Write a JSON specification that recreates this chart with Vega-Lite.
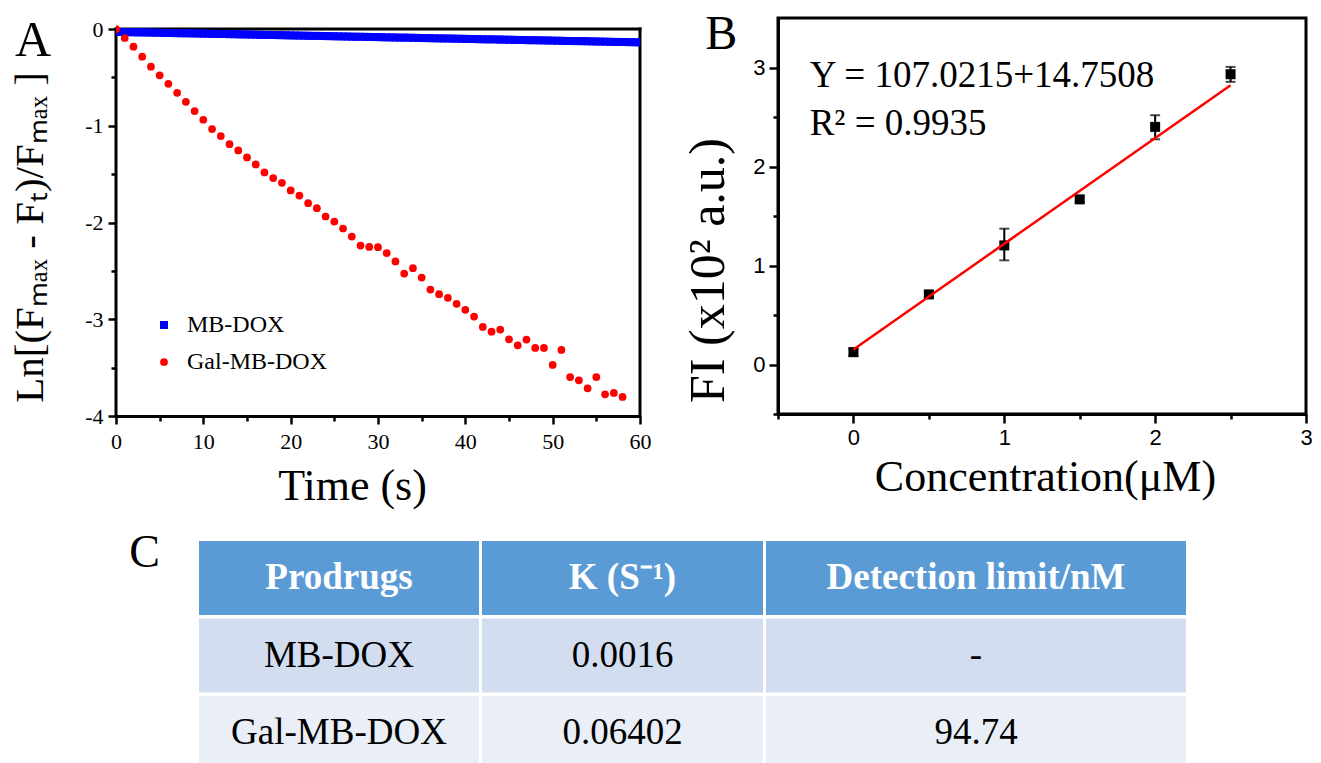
{
  "$schema": "https://vega.github.io/schema/vega-lite/v6.json",
  "padding": {"left": 8, "top": 9, "right": 0, "bottom": 0},
  "background": "white",
  "config": {
    "view": {"stroke": null},
    "axis": {"grid": false, "domainColor": "black", "domainWidth": 3, "tickColor": "black", "tickWidth": 2.5, "labelColor": "black", "titleColor": "black", "titleFontWeight": "normal", "labelFont": "Liberation Serif", "titleFont": "Liberation Serif", "labelFlush": false, "labelOverlap": false, "labelBound": false},
    "text": {"font": "Liberation Serif"},
    "title": {"font": "Liberation Serif", "fontWeight": "normal", "color": "black"}
  },
  "resolve": {"scale": {"color": "independent", "shape": "independent", "size": "independent"}, "legend": {"color": "independent", "shape": "independent", "size": "independent"}},
  "datasets": {
    "a": [
      {"s":"MB-DOX","t":0,"v":-0.030},{"s":"MB-DOX","t":0.5,"v":-0.031},{"s":"MB-DOX","t":1,"v":-0.032},{"s":"MB-DOX","t":1.5,"v":-0.033},{"s":"MB-DOX","t":2,"v":-0.034},{"s":"MB-DOX","t":2.5,"v":-0.035},{"s":"MB-DOX","t":3,"v":-0.035},{"s":"MB-DOX","t":3.5,"v":-0.036},{"s":"MB-DOX","t":4,"v":-0.037},{"s":"MB-DOX","t":4.5,"v":-0.038},
      {"s":"MB-DOX","t":5,"v":-0.039},{"s":"MB-DOX","t":5.5,"v":-0.040},{"s":"MB-DOX","t":6,"v":-0.041},{"s":"MB-DOX","t":6.5,"v":-0.042},{"s":"MB-DOX","t":7,"v":-0.043},{"s":"MB-DOX","t":7.5,"v":-0.044},{"s":"MB-DOX","t":8,"v":-0.044},{"s":"MB-DOX","t":8.5,"v":-0.045},{"s":"MB-DOX","t":9,"v":-0.046},{"s":"MB-DOX","t":9.5,"v":-0.047},
      {"s":"MB-DOX","t":10,"v":-0.048},{"s":"MB-DOX","t":10.5,"v":-0.049},{"s":"MB-DOX","t":11,"v":-0.050},{"s":"MB-DOX","t":11.5,"v":-0.051},{"s":"MB-DOX","t":12,"v":-0.052},{"s":"MB-DOX","t":12.5,"v":-0.052},{"s":"MB-DOX","t":13,"v":-0.053},{"s":"MB-DOX","t":13.5,"v":-0.054},{"s":"MB-DOX","t":14,"v":-0.055},{"s":"MB-DOX","t":14.5,"v":-0.056},
      {"s":"MB-DOX","t":15,"v":-0.057},{"s":"MB-DOX","t":15.5,"v":-0.058},{"s":"MB-DOX","t":16,"v":-0.059},{"s":"MB-DOX","t":16.5,"v":-0.060},{"s":"MB-DOX","t":17,"v":-0.061},{"s":"MB-DOX","t":17.5,"v":-0.062},{"s":"MB-DOX","t":18,"v":-0.062},{"s":"MB-DOX","t":18.5,"v":-0.063},{"s":"MB-DOX","t":19,"v":-0.064},{"s":"MB-DOX","t":19.5,"v":-0.065},
      {"s":"MB-DOX","t":20,"v":-0.066},{"s":"MB-DOX","t":20.5,"v":-0.067},{"s":"MB-DOX","t":21,"v":-0.068},{"s":"MB-DOX","t":21.5,"v":-0.069},{"s":"MB-DOX","t":22,"v":-0.070},{"s":"MB-DOX","t":22.5,"v":-0.071},{"s":"MB-DOX","t":23,"v":-0.071},{"s":"MB-DOX","t":23.5,"v":-0.072},{"s":"MB-DOX","t":24,"v":-0.073},{"s":"MB-DOX","t":24.5,"v":-0.074},
      {"s":"MB-DOX","t":25,"v":-0.075},{"s":"MB-DOX","t":25.5,"v":-0.076},{"s":"MB-DOX","t":26,"v":-0.077},{"s":"MB-DOX","t":26.5,"v":-0.078},{"s":"MB-DOX","t":27,"v":-0.079},{"s":"MB-DOX","t":27.5,"v":-0.080},{"s":"MB-DOX","t":28,"v":-0.080},{"s":"MB-DOX","t":28.5,"v":-0.081},{"s":"MB-DOX","t":29,"v":-0.082},{"s":"MB-DOX","t":29.5,"v":-0.083},
      {"s":"MB-DOX","t":30,"v":-0.084},{"s":"MB-DOX","t":30.5,"v":-0.085},{"s":"MB-DOX","t":31,"v":-0.086},{"s":"MB-DOX","t":31.5,"v":-0.087},{"s":"MB-DOX","t":32,"v":-0.088},{"s":"MB-DOX","t":32.5,"v":-0.089},{"s":"MB-DOX","t":33,"v":-0.089},{"s":"MB-DOX","t":33.5,"v":-0.090},{"s":"MB-DOX","t":34,"v":-0.091},{"s":"MB-DOX","t":34.5,"v":-0.092},
      {"s":"MB-DOX","t":35,"v":-0.093},{"s":"MB-DOX","t":35.5,"v":-0.094},{"s":"MB-DOX","t":36,"v":-0.095},{"s":"MB-DOX","t":36.5,"v":-0.096},{"s":"MB-DOX","t":37,"v":-0.097},{"s":"MB-DOX","t":37.5,"v":-0.098},{"s":"MB-DOX","t":38,"v":-0.098},{"s":"MB-DOX","t":38.5,"v":-0.099},{"s":"MB-DOX","t":39,"v":-0.100},{"s":"MB-DOX","t":39.5,"v":-0.101},
      {"s":"MB-DOX","t":40,"v":-0.102},{"s":"MB-DOX","t":40.5,"v":-0.103},{"s":"MB-DOX","t":41,"v":-0.104},{"s":"MB-DOX","t":41.5,"v":-0.105},{"s":"MB-DOX","t":42,"v":-0.106},{"s":"MB-DOX","t":42.5,"v":-0.107},{"s":"MB-DOX","t":43,"v":-0.107},{"s":"MB-DOX","t":43.5,"v":-0.108},{"s":"MB-DOX","t":44,"v":-0.109},{"s":"MB-DOX","t":44.5,"v":-0.110},
      {"s":"MB-DOX","t":45,"v":-0.111},{"s":"MB-DOX","t":45.5,"v":-0.112},{"s":"MB-DOX","t":46,"v":-0.113},{"s":"MB-DOX","t":46.5,"v":-0.114},{"s":"MB-DOX","t":47,"v":-0.115},{"s":"MB-DOX","t":47.5,"v":-0.116},{"s":"MB-DOX","t":48,"v":-0.116},{"s":"MB-DOX","t":48.5,"v":-0.117},{"s":"MB-DOX","t":49,"v":-0.118},{"s":"MB-DOX","t":49.5,"v":-0.119},
      {"s":"MB-DOX","t":50,"v":-0.120},{"s":"MB-DOX","t":50.5,"v":-0.121},{"s":"MB-DOX","t":51,"v":-0.122},{"s":"MB-DOX","t":51.5,"v":-0.123},{"s":"MB-DOX","t":52,"v":-0.124},{"s":"MB-DOX","t":52.5,"v":-0.125},{"s":"MB-DOX","t":53,"v":-0.125},{"s":"MB-DOX","t":53.5,"v":-0.126},{"s":"MB-DOX","t":54,"v":-0.127},{"s":"MB-DOX","t":54.5,"v":-0.128},
      {"s":"MB-DOX","t":55,"v":-0.129},{"s":"MB-DOX","t":55.5,"v":-0.130},{"s":"MB-DOX","t":56,"v":-0.131},{"s":"MB-DOX","t":56.5,"v":-0.132},{"s":"MB-DOX","t":57,"v":-0.133},{"s":"MB-DOX","t":57.5,"v":-0.134},{"s":"MB-DOX","t":58,"v":-0.134},{"s":"MB-DOX","t":58.5,"v":-0.135},{"s":"MB-DOX","t":59,"v":-0.136},{"s":"MB-DOX","t":59.5,"v":-0.137},
      {"s":"MB-DOX","t":60,"v":-0.138},
      {"s":"Gal-MB-DOX","t":0,"v":0},{"s":"Gal-MB-DOX","t":1,"v":-0.093},{"s":"Gal-MB-DOX","t":2,"v":-0.183},{"s":"Gal-MB-DOX","t":3,"v":-0.286},{"s":"Gal-MB-DOX","t":4,"v":-0.39},{"s":"Gal-MB-DOX","t":5,"v":-0.479},{"s":"Gal-MB-DOX","t":6,"v":-0.566},{"s":"Gal-MB-DOX","t":7,"v":-0.659},{"s":"Gal-MB-DOX","t":8,"v":-0.752},{"s":"Gal-MB-DOX","t":9,"v":-0.848},
      {"s":"Gal-MB-DOX","t":10,"v":-0.938},{"s":"Gal-MB-DOX","t":11,"v":-1.034},{"s":"Gal-MB-DOX","t":12,"v":-1.107},{"s":"Gal-MB-DOX","t":13,"v":-1.19},{"s":"Gal-MB-DOX","t":14,"v":-1.255},{"s":"Gal-MB-DOX","t":15,"v":-1.328},{"s":"Gal-MB-DOX","t":16,"v":-1.40},{"s":"Gal-MB-DOX","t":17,"v":-1.483},{"s":"Gal-MB-DOX","t":18,"v":-1.541},{"s":"Gal-MB-DOX","t":19,"v":-1.59},
      {"s":"Gal-MB-DOX","t":20,"v":-1.669},{"s":"Gal-MB-DOX","t":21,"v":-1.721},{"s":"Gal-MB-DOX","t":22,"v":-1.80},{"s":"Gal-MB-DOX","t":23,"v":-1.852},{"s":"Gal-MB-DOX","t":24,"v":-1.938},{"s":"Gal-MB-DOX","t":25,"v":-1.99},{"s":"Gal-MB-DOX","t":26,"v":-2.062},{"s":"Gal-MB-DOX","t":27,"v":-2.145},{"s":"Gal-MB-DOX","t":28,"v":-2.238},{"s":"Gal-MB-DOX","t":29,"v":-2.252},
      {"s":"Gal-MB-DOX","t":30,"v":-2.255},{"s":"Gal-MB-DOX","t":31,"v":-2.317},{"s":"Gal-MB-DOX","t":32,"v":-2.403},{"s":"Gal-MB-DOX","t":33,"v":-2.528},{"s":"Gal-MB-DOX","t":34,"v":-2.472},{"s":"Gal-MB-DOX","t":35,"v":-2.569},{"s":"Gal-MB-DOX","t":36,"v":-2.693},{"s":"Gal-MB-DOX","t":37,"v":-2.741},{"s":"Gal-MB-DOX","t":38,"v":-2.779},{"s":"Gal-MB-DOX","t":39,"v":-2.841},
      {"s":"Gal-MB-DOX","t":40,"v":-2.903},{"s":"Gal-MB-DOX","t":41,"v":-2.972},{"s":"Gal-MB-DOX","t":42,"v":-3.079},{"s":"Gal-MB-DOX","t":43,"v":-3.128},{"s":"Gal-MB-DOX","t":44,"v":-3.107},{"s":"Gal-MB-DOX","t":45,"v":-3.207},{"s":"Gal-MB-DOX","t":46,"v":-3.269},{"s":"Gal-MB-DOX","t":47,"v":-3.21},{"s":"Gal-MB-DOX","t":48,"v":-3.297},{"s":"Gal-MB-DOX","t":49,"v":-3.297},
      {"s":"Gal-MB-DOX","t":50,"v":-3.472},{"s":"Gal-MB-DOX","t":51,"v":-3.317},{"s":"Gal-MB-DOX","t":52,"v":-3.597},{"s":"Gal-MB-DOX","t":53,"v":-3.631},{"s":"Gal-MB-DOX","t":54,"v":-3.714},{"s":"Gal-MB-DOX","t":55,"v":-3.597},{"s":"Gal-MB-DOX","t":56,"v":-3.776},{"s":"Gal-MB-DOX","t":57,"v":-3.762},{"s":"Gal-MB-DOX","t":58,"v":-3.803}
    ],
    "b": [
      {"c":0,"fi":0.125,"lo":0.085,"hi":0.16},
      {"c":0.5,"fi":0.708,"lo":0.678,"hi":0.738},
      {"c":1,"fi":1.203,"lo":1.052,"hi":1.372},
      {"c":1.5,"fi":1.668,"lo":1.638,"hi":1.698},
      {"c":2,"fi":2.40,"lo":2.275,"hi":2.518},
      {"c":2.5,"fi":2.932,"lo":2.855,"hi":3.006}
    ],
    "fit": [{"c":0,"fi":0.152},{"c":2.5,"fi":2.821}],
    "table": [
      {"row":"0","p":"Prodrugs","k":"K (S⁻¹)","d":"Detection limit/nM"},
      {"row":"1","p":"MB-DOX","k":"0.0016","d":"-"},
      {"row":"2","p":"Gal-MB-DOX","k":"0.06402","d":"94.74"}
    ]
  },
  "bounds": "flush",
  "spacing": 523,
  "vconcat": [
    {
      "bounds": "flush",
      "spacing": 138,
      "hconcat": [
        {
          "width": 524,
          "height": 398,
          "resolve": {"axis": {"x": "independent", "y": "independent"}},
          "layer": [
            {
              "data": {"values": [{}]},
              "mark": {"type": "rule", "strokeWidth": 3, "color": "black", "strokeCap": "square"},
              "encoding": {
                "x": {"datum": 60, "type": "quantitative", "axis": {"orient": "bottom", "values": [5, 15, 25, 35, 45, 55], "labels": false, "domain": false, "tickSize": 5, "title": null}},
                "y": {"datum": -4, "type": "quantitative", "axis": {"orient": "left", "values": [-3.5, -2.5, -1.5, -0.5], "labels": false, "domain": false, "tickSize": 5, "title": null}},
                "y2": {"datum": 0}
              }
            },
            {
              "data": {"values": [{}]},
              "mark": {"type": "rule", "strokeWidth": 3, "color": "black", "strokeCap": "square"},
              "encoding": {
                "x": {"datum": 0, "type": "quantitative", "axis": null},
                "y": {"datum": -4, "type": "quantitative", "axis": null},
                "y2": {"datum": 0}
              }
            },
            {
              "data": {"values": [{}]},
              "mark": {"type": "rule", "strokeWidth": 3, "color": "black", "strokeCap": "square"},
              "encoding": {
                "x": {"datum": 0, "type": "quantitative", "axis": null},
                "x2": {"datum": 60},
                "y": {"datum": 0, "type": "quantitative", "axis": null}
              }
            },
            {
              "data": {"name": "a"},
              "mark": {"type": "point", "filled": true, "opacity": 1, "clip": true, "strokeWidth": 0},
              "encoding": {
                "x": {"field": "t", "type": "quantitative", "scale": {"domain": [0, 60], "nice": false, "zero": false},
                  "axis": {"orient": "bottom", "values": [0, 10, 20, 30, 40, 50, 60], "tickSize": 8, "labelPadding": 7, "labelFontSize": 22, "title": "Time (s)", "titleFontSize": 44, "titleX": 236, "titleY": 83, "titleBaseline": "alphabetic", "titleAlign": "center"}},
                "y": {"field": "v", "type": "quantitative", "scale": {"domain": [-4, 0.1137], "nice": false, "zero": false},
                  "axis": {"orient": "left", "values": [-4, -3, -2, -1, 0], "domain": false, "tickSize": 8, "labelPadding": 5, "labelFontSize": 22, "labelExpr": "replace(datum.label, '−', '-')", "title": "Ln[(Fₘₐₓ - Fₜ)/Fₘₐₓ ]", "titleFontSize": 41, "titleX": -74, "titleY": 219, "titleAngle": -90, "titleBaseline": "alphabetic", "titleAlign": "center"}},
                "color": {"field": "s", "type": "nominal", "scale": {"domain": ["MB-DOX", "Gal-MB-DOX"], "range": ["#0000FF", "#FF0000"]},
                  "legend": {"title": null, "orient": "none", "legendX": 36, "legendY": 295, "labelFontSize": 24, "labelFont": "Liberation Serif", "labelColor": "black", "symbolSize": 64, "rowPadding": 13, "labelOffset": 11, "padding": 0, "symbolStrokeWidth": 0}},
                "shape": {"field": "s", "type": "nominal", "scale": {"domain": ["MB-DOX", "Gal-MB-DOX"], "range": ["square", "circle"]},
                  "legend": {"title": null, "orient": "none", "legendX": 36, "legendY": 295, "labelFontSize": 24, "labelFont": "Liberation Serif", "labelColor": "black", "symbolSize": 64, "rowPadding": 13, "labelOffset": 11, "padding": 0, "symbolStrokeWidth": 0}},
                "size": {"field": "s", "type": "nominal", "scale": {"domain": ["MB-DOX", "Gal-MB-DOX"], "range": [64, 60]}, "legend": null}
              }
            },
            {
              "data": {"values": [{"label": "A"}]},
              "mark": {"type": "text", "fontSize": 50, "align": "left", "baseline": "alphabetic", "font": "Liberation Serif", "color": "black"},
              "encoding": {
                "x": {"datum": -11.57, "type": "quantitative", "axis": null},
                "y": {"datum": -0.279, "type": "quantitative", "axis": null},
                "text": {"field": "label"}
              }
            }
          ]
        },
        {
          "width": 528,
          "height": 396,
          "view": {"stroke": "black", "strokeWidth": 3},
          "resolve": {"axis": {"x": "independent", "y": "independent"}},
          "layer": [
            {
              "data": {"name": "b"},
              "mark": {"type": "rule", "strokeWidth": 2, "color": "black"},
              "encoding": {
                "x": {"field": "c", "type": "quantitative", "scale": {"domain": [-0.5, 3], "nice": false, "zero": false},
                  "axis": {"orient": "bottom", "values": [0, 1, 2, 3], "tickSize": 9, "labelPadding": 4, "labelFont": "Liberation Sans", "labelFontSize": 22, "title": "Concentration(μM)", "titleFontSize": 44, "titleX": 267, "titleY": 76, "titleBaseline": "alphabetic", "titleAlign": "center"}},
                "y": {"field": "lo", "type": "quantitative", "scale": {"domain": [-0.5, 3.5], "nice": false, "zero": false},
                  "axis": {"orient": "left", "values": [0, 1, 2, 3], "tickSize": 9, "labelPadding": 4, "labelFont": "Liberation Sans", "labelFontSize": 22, "title": "FI (x10² a.u.)", "titleFontSize": 50, "titleX": -55, "titleY": 252, "titleAngle": -90, "titleBaseline": "alphabetic", "titleAlign": "center"}},
                "y2": {"field": "hi"}
              }
            },
            {
              "data": {"name": "b"},
              "mark": {"type": "tick", "orient": "horizontal", "size": 10, "thickness": 2, "color": "black"},
              "encoding": {
                "x": {"field": "c", "type": "quantitative", "axis": null},
                "y": {"field": "lo", "type": "quantitative", "axis": null}
              }
            },
            {
              "data": {"name": "b"},
              "mark": {"type": "tick", "orient": "horizontal", "size": 10, "thickness": 2, "color": "black"},
              "encoding": {
                "x": {"field": "c", "type": "quantitative", "axis": null},
                "y": {"field": "hi", "type": "quantitative", "axis": null}
              }
            },
            {
              "data": {"name": "b"},
              "mark": {"type": "point", "shape": "square", "filled": true, "opacity": 1, "size": 100, "color": "black"},
              "encoding": {
                "x": {"field": "c", "type": "quantitative", "axis": null},
                "y": {"field": "fi", "type": "quantitative", "axis": null}
              }
            },
            {
              "data": {"name": "fit"},
              "mark": {"type": "line", "color": "#FF0000", "strokeWidth": 2.5},
              "encoding": {
                "x": {"field": "c", "type": "quantitative", "axis": {"orient": "bottom", "values": [-0.5, 0.5, 1.5, 2.5], "labels": false, "domain": false, "tickSize": 5, "title": null}},
                "y": {"field": "fi", "type": "quantitative", "axis": {"orient": "left", "values": [-0.5, 0.5, 1.5, 2.5], "labels": false, "domain": false, "tickSize": 5, "title": null}}
              }
            },
            {
              "data": {"values": [{"label": "Y = 107.0215+14.7508"}]},
              "mark": {"type": "text", "fontSize": 37, "align": "left", "baseline": "alphabetic", "font": "Liberation Serif", "color": "black"},
              "encoding": {
                "x": {"datum": -0.29, "type": "quantitative", "axis": null},
                "y": {"datum": 2.80, "type": "quantitative", "axis": null},
                "text": {"field": "label"}
              }
            },
            {
              "data": {"values": [{"label": "R² = 0.9935"}]},
              "mark": {"type": "text", "fontSize": 37, "align": "left", "baseline": "alphabetic", "font": "Liberation Serif", "color": "black"},
              "encoding": {
                "x": {"datum": -0.29, "type": "quantitative", "axis": null},
                "y": {"datum": 2.32, "type": "quantitative", "axis": null},
                "text": {"field": "label"}
              }
            },
            {
              "data": {"values": [{"label": "B"}]},
              "mark": {"type": "text", "fontSize": 48, "align": "left", "baseline": "alphabetic", "font": "Liberation Serif", "color": "black"},
              "encoding": {
                "x": {"datum": -0.983, "type": "quantitative", "axis": null},
                "y": {"datum": 3.19, "type": "quantitative", "axis": null},
                "text": {"field": "label"}
              }
            }
          ]
        }
      ]
    },
    {
      "bounds": "flush",
      "spacing": 3,
      "hconcat": [
        {
          "width": 80,
          "height": 229,
          "title": {"text": "C", "anchor": "end", "frame": "group", "orient": "top", "offset": 0, "dx": -36, "dy": 72, "baseline": "alphabetic", "fontSize": 46, "font": "Liberation Serif", "fontWeight": "normal", "color": "black"},
          "data": {"values": [{"label": ""}]},
          "mark": {"type": "text"},
          "encoding": {"text": {"field": "label"}}
        },
        {
          "width": 280,
          "height": 229,
          "data": {"name": "table"},
          "layer": [
            {
              "mark": {"type": "rect"},
              "encoding": {
                "y": {"field": "row", "type": "ordinal", "scale": {"type": "band", "paddingInner": 0.045, "paddingOuter": 0}, "axis": null},
                "color": {"field": "row", "type": "ordinal", "scale": {"domain": ["0", "1", "2"], "range": ["#5B9BD5", "#D2DEEF", "#EAEFF7"]}, "legend": null}
              }
            },
            {
              "transform": [{"filter": "datum.row === '0'"}],
              "mark": {"type": "text", "fontSize": 37, "fontWeight": "bold", "color": "white", "font": "Liberation Serif", "baseline": "middle"},
              "encoding": {"y": {"field": "row", "type": "ordinal", "axis": null}, "text": {"field": "p"}}
            },
            {
              "transform": [{"filter": "datum.row !== '0'"}],
              "mark": {"type": "text", "fontSize": 37, "color": "black", "font": "Liberation Serif", "baseline": "middle"},
              "encoding": {"y": {"field": "row", "type": "ordinal", "axis": null}, "text": {"field": "p"}}
            }
          ]
        },
        {
          "width": 281,
          "height": 229,
          "data": {"name": "table"},
          "layer": [
            {
              "mark": {"type": "rect"},
              "encoding": {
                "y": {"field": "row", "type": "ordinal", "scale": {"type": "band", "paddingInner": 0.045, "paddingOuter": 0}, "axis": null},
                "color": {"field": "row", "type": "ordinal", "scale": {"domain": ["0", "1", "2"], "range": ["#5B9BD5", "#D2DEEF", "#EAEFF7"]}, "legend": null}
              }
            },
            {
              "transform": [{"filter": "datum.row === '0'"}],
              "mark": {"type": "text", "fontSize": 37, "fontWeight": "bold", "color": "white", "font": "Liberation Serif", "baseline": "middle"},
              "encoding": {"y": {"field": "row", "type": "ordinal", "axis": null}, "text": {"field": "k"}}
            },
            {
              "transform": [{"filter": "datum.row !== '0'"}],
              "mark": {"type": "text", "fontSize": 37, "color": "black", "font": "Liberation Serif", "baseline": "middle"},
              "encoding": {"y": {"field": "row", "type": "ordinal", "axis": null}, "text": {"field": "k"}}
            }
          ]
        },
        {
          "width": 420,
          "height": 229,
          "data": {"name": "table"},
          "layer": [
            {
              "mark": {"type": "rect"},
              "encoding": {
                "y": {"field": "row", "type": "ordinal", "scale": {"type": "band", "paddingInner": 0.045, "paddingOuter": 0}, "axis": null},
                "color": {"field": "row", "type": "ordinal", "scale": {"domain": ["0", "1", "2"], "range": ["#5B9BD5", "#D2DEEF", "#EAEFF7"]}, "legend": null}
              }
            },
            {
              "transform": [{"filter": "datum.row === '0'"}],
              "mark": {"type": "text", "fontSize": 37, "fontWeight": "bold", "color": "white", "font": "Liberation Serif", "baseline": "middle"},
              "encoding": {"y": {"field": "row", "type": "ordinal", "axis": null}, "text": {"field": "d"}}
            },
            {
              "transform": [{"filter": "datum.row !== '0'"}],
              "mark": {"type": "text", "fontSize": 37, "color": "black", "font": "Liberation Serif", "baseline": "middle"},
              "encoding": {"y": {"field": "row", "type": "ordinal", "axis": null}, "text": {"field": "d"}}
            }
          ]
        }
      ]
    }
  ]
}
